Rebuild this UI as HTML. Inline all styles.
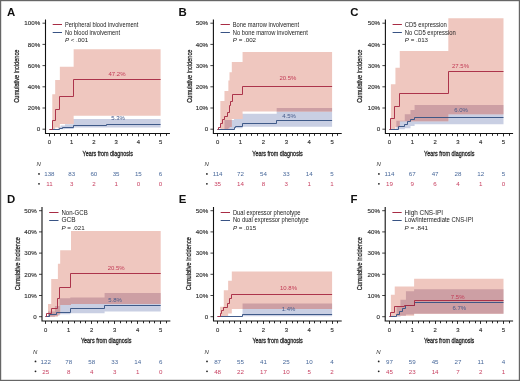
<!DOCTYPE html><html><head><meta charset="utf-8"><style>html,body{margin:0;padding:0;background:#fff}svg{display:block;filter:blur(0.45px)}text{font-family:"Liberation Sans",sans-serif}</style></head><body>
<svg width="520" height="381" viewBox="0 0 520 381">
<rect width="520" height="381" fill="#fff"/>
<g>
<clipPath id="clipA"><path d="M52.29,94.22 L55.18,94.22 L55.18,80.02 L59.85,80.02 L59.85,66.66 L73.64,66.66 L73.64,49.28 L160.60,49.28 L160.60,115.63 L73.64,115.63 L73.64,123.90 L59.85,123.90 L59.85,127.61 L55.18,127.61 L55.18,129.20 L52.29,129.20Z"/></clipPath>
<path d="M58.30,127.08 L60.52,127.08 L60.52,125.49 L64.97,125.49 L64.97,124.32 L73.64,124.32 L73.64,118.92 L106.56,118.92 L106.56,118.92 L160.60,118.92 L160.60,127.50 L106.56,127.50 L106.56,127.50 L73.64,127.50 L73.64,128.88 L64.97,128.88 L64.97,129.20 L60.52,129.20 L60.52,129.20 L58.30,129.20Z" fill="#c9cfe3"/>
<path d="M52.29,94.22 L55.18,94.22 L55.18,80.02 L59.85,80.02 L59.85,66.66 L73.64,66.66 L73.64,49.28 L160.60,49.28 L160.60,115.63 L73.64,115.63 L73.64,123.90 L59.85,123.90 L59.85,127.61 L55.18,127.61 L55.18,129.20 L52.29,129.20Z" fill="#efc7bf"/>
<path d="M58.30,127.08 L60.52,127.08 L60.52,125.49 L64.97,125.49 L64.97,124.32 L73.64,124.32 L73.64,118.92 L106.56,118.92 L106.56,118.92 L160.60,118.92 L160.60,127.50 L106.56,127.50 L106.56,127.50 L73.64,127.50 L73.64,128.88 L64.97,128.88 L64.97,129.20 L60.52,129.20 L60.52,129.20 L58.30,129.20Z" fill="#cd9fa4" clip-path="url(#clipA)"/>
<path d="M49.50,129.50H59.50V128.50H62.50V127.50H73.50V125.50H106.50V124.50H160.60" fill="none" stroke="#385384" stroke-width="0.95"/>
<path d="M49.50,129.50H52.50V120.50H55.50V109.50H59.50V96.50H73.50V79.50H160.60" fill="none" stroke="#a82c44" stroke-width="0.95"/>
<path d="M45.50,19.50V133.50H169.94" fill="none" stroke="#111" stroke-width="1.1"/>
<path d="M42.50,129.20H45.50" stroke="#111" stroke-width="0.8"/>
<text x="40.20" y="131.40" font-size="6.2" fill="#333" text-anchor="end" font-weight="normal" font-style="normal" stroke="#333" stroke-width="0.15">0</text>
<path d="M42.50,108.00H45.50" stroke="#111" stroke-width="0.8"/>
<text x="40.20" y="110.20" font-size="6.2" fill="#333" text-anchor="end" font-weight="normal" font-style="normal" stroke="#333" stroke-width="0.15">20%</text>
<path d="M42.50,86.80H45.50" stroke="#111" stroke-width="0.8"/>
<text x="40.20" y="89.00" font-size="6.2" fill="#333" text-anchor="end" font-weight="normal" font-style="normal" stroke="#333" stroke-width="0.15">40%</text>
<path d="M42.50,65.60H45.50" stroke="#111" stroke-width="0.8"/>
<text x="40.20" y="67.80" font-size="6.2" fill="#333" text-anchor="end" font-weight="normal" font-style="normal" stroke="#333" stroke-width="0.15">60%</text>
<path d="M42.50,44.40H45.50" stroke="#111" stroke-width="0.8"/>
<text x="40.20" y="46.60" font-size="6.2" fill="#333" text-anchor="end" font-weight="normal" font-style="normal" stroke="#333" stroke-width="0.15">80%</text>
<path d="M42.50,23.20H45.50" stroke="#111" stroke-width="0.8"/>
<text x="40.20" y="25.40" font-size="6.2" fill="#333" text-anchor="end" font-weight="normal" font-style="normal" stroke="#333" stroke-width="0.15">100%</text>
<path d="M49.50,133.50V136.40" stroke="#111" stroke-width="0.9"/>
<text x="49.40" y="144.40" font-size="5.9" fill="#333" text-anchor="middle" font-weight="normal" font-style="normal" stroke="#333" stroke-width="0.15">0</text>
<path d="M54.50,133.50V135.80" stroke="#111" stroke-width="0.9"/>
<path d="M60.50,133.50V135.80" stroke="#111" stroke-width="0.9"/>
<path d="M66.50,133.50V135.80" stroke="#111" stroke-width="0.9"/>
<path d="M71.50,133.50V136.40" stroke="#111" stroke-width="0.9"/>
<text x="71.64" y="144.40" font-size="5.9" fill="#333" text-anchor="middle" font-weight="normal" font-style="normal" stroke="#333" stroke-width="0.15">1</text>
<path d="M77.50,133.50V135.80" stroke="#111" stroke-width="0.9"/>
<path d="M82.50,133.50V135.80" stroke="#111" stroke-width="0.9"/>
<path d="M88.50,133.50V135.80" stroke="#111" stroke-width="0.9"/>
<path d="M93.50,133.50V136.40" stroke="#111" stroke-width="0.9"/>
<text x="93.88" y="144.40" font-size="5.9" fill="#333" text-anchor="middle" font-weight="normal" font-style="normal" stroke="#333" stroke-width="0.15">2</text>
<path d="M99.50,133.50V135.80" stroke="#111" stroke-width="0.9"/>
<path d="M105.50,133.50V135.80" stroke="#111" stroke-width="0.9"/>
<path d="M110.50,133.50V135.80" stroke="#111" stroke-width="0.9"/>
<path d="M116.50,133.50V136.40" stroke="#111" stroke-width="0.9"/>
<text x="116.12" y="144.40" font-size="5.9" fill="#333" text-anchor="middle" font-weight="normal" font-style="normal" stroke="#333" stroke-width="0.15">3</text>
<path d="M121.50,133.50V135.80" stroke="#111" stroke-width="0.9"/>
<path d="M127.50,133.50V135.80" stroke="#111" stroke-width="0.9"/>
<path d="M132.50,133.50V135.80" stroke="#111" stroke-width="0.9"/>
<path d="M138.50,133.50V136.40" stroke="#111" stroke-width="0.9"/>
<text x="138.36" y="144.40" font-size="5.9" fill="#333" text-anchor="middle" font-weight="normal" font-style="normal" stroke="#333" stroke-width="0.15">4</text>
<path d="M143.50,133.50V135.80" stroke="#111" stroke-width="0.9"/>
<path d="M149.50,133.50V135.80" stroke="#111" stroke-width="0.9"/>
<path d="M155.50,133.50V135.80" stroke="#111" stroke-width="0.9"/>
<path d="M160.50,133.50V136.40" stroke="#111" stroke-width="0.9"/>
<text x="160.60" y="144.40" font-size="5.9" fill="#333" text-anchor="middle" font-weight="normal" font-style="normal" stroke="#333" stroke-width="0.15">5</text>
<path d="M166.50,133.50V135.80" stroke="#111" stroke-width="0.9"/>
<text x="107.72" y="155.60" font-size="7.2" fill="#2a2a2a" text-anchor="middle" font-weight="normal" font-style="normal" textLength="50.4" lengthAdjust="spacingAndGlyphs" stroke="#2a2a2a" stroke-width="0.3">Years from diagnosis</text>
<text x="0" y="0" font-size="7.9" fill="#2a2a2a" stroke="#2a2a2a" stroke-width="0.3" text-anchor="middle" textLength="53" lengthAdjust="spacingAndGlyphs" transform="translate(19.00,76.20) rotate(-90)">Cumulative incidence</text>
<path d="M52.70,24.50H62.00" stroke="#a82c44" stroke-width="1.0"/>
<path d="M52.70,32.50H62.00" stroke="#385384" stroke-width="1.0"/>
<text x="64.90" y="27.30" font-size="6.4" fill="#222" text-anchor="start" font-weight="normal" font-style="normal" textLength="73.4" lengthAdjust="spacingAndGlyphs" >Peripheral blood involvement</text>
<text x="64.90" y="34.60" font-size="6.4" fill="#222" text-anchor="start" font-weight="normal" font-style="normal" textLength="55.1" lengthAdjust="spacingAndGlyphs" >No blood involvement</text>
<text x="64.90" y="42.20" font-size="6.2" fill="#222"><tspan font-style="italic">P</tspan> < .001</text>
<text x="117.00" y="76.00" font-size="6.0" fill="#c23a55" text-anchor="middle" font-weight="normal" font-style="normal" >47.2%</text>
<text x="118.00" y="119.60" font-size="6.0" fill="#44598a" text-anchor="middle" font-weight="normal" font-style="normal" >5.3%</text>
<text x="38.70" y="166.30" font-size="6" font-style="italic" fill="#333" text-anchor="middle">N</text>
<circle cx="39.00" cy="173.90" r="0.9" fill="#222"/>
<text x="49.40" y="176.20" font-size="6.2" fill="#48689a" text-anchor="middle" font-weight="normal" font-style="normal" >138</text>
<text x="71.64" y="176.20" font-size="6.2" fill="#48689a" text-anchor="middle" font-weight="normal" font-style="normal" >83</text>
<text x="93.88" y="176.20" font-size="6.2" fill="#48689a" text-anchor="middle" font-weight="normal" font-style="normal" >60</text>
<text x="116.12" y="176.20" font-size="6.2" fill="#48689a" text-anchor="middle" font-weight="normal" font-style="normal" >35</text>
<text x="138.36" y="176.20" font-size="6.2" fill="#48689a" text-anchor="middle" font-weight="normal" font-style="normal" >15</text>
<text x="160.60" y="176.20" font-size="6.2" fill="#48689a" text-anchor="middle" font-weight="normal" font-style="normal" >6</text>
<circle cx="39.00" cy="183.80" r="0.9" fill="#222"/>
<text x="49.40" y="186.10" font-size="6.2" fill="#c84262" text-anchor="middle" font-weight="normal" font-style="normal" >11</text>
<text x="71.64" y="186.10" font-size="6.2" fill="#c84262" text-anchor="middle" font-weight="normal" font-style="normal" >3</text>
<text x="93.88" y="186.10" font-size="6.2" fill="#c84262" text-anchor="middle" font-weight="normal" font-style="normal" >2</text>
<text x="116.12" y="186.10" font-size="6.2" fill="#c84262" text-anchor="middle" font-weight="normal" font-style="normal" >1</text>
<text x="138.36" y="186.10" font-size="6.2" fill="#c84262" text-anchor="middle" font-weight="normal" font-style="normal" >0</text>
<text x="160.60" y="186.10" font-size="6.2" fill="#c84262" text-anchor="middle" font-weight="normal" font-style="normal" >0</text>
<text x="7.00" y="15.60" font-size="11.4" fill="#111" text-anchor="start" font-weight="bold" font-style="normal" >A</text>
</g>
<g>
<clipPath id="clipB"><path d="M220.35,101.00 L224.47,101.00 L224.47,91.04 L228.36,91.04 L228.36,80.44 L229.51,80.44 L229.51,72.17 L231.80,72.17 L231.80,62.00 L242.56,62.00 L242.56,52.03 L332.10,52.03 L332.10,111.60 L242.56,111.60 L242.56,119.02 L231.80,119.02 L231.80,127.08 L229.51,127.08 L229.51,128.14 L228.36,128.14 L228.36,129.20 L224.47,129.20 L224.47,129.20 L220.35,129.20Z"/></clipPath>
<path d="M224.47,120.08 L234.09,120.08 L234.09,119.02 L242.56,119.02 L242.56,113.72 L276.68,113.72 L276.68,108.00 L332.10,108.00 L332.10,126.66 L276.68,126.66 L276.68,126.66 L242.56,126.66 L242.56,128.35 L234.09,128.35 L234.09,129.20 L224.47,129.20Z" fill="#c9cfe3"/>
<path d="M220.35,101.00 L224.47,101.00 L224.47,91.04 L228.36,91.04 L228.36,80.44 L229.51,80.44 L229.51,72.17 L231.80,72.17 L231.80,62.00 L242.56,62.00 L242.56,52.03 L332.10,52.03 L332.10,111.60 L242.56,111.60 L242.56,119.02 L231.80,119.02 L231.80,127.08 L229.51,127.08 L229.51,128.14 L228.36,128.14 L228.36,129.20 L224.47,129.20 L224.47,129.20 L220.35,129.20Z" fill="#efc7bf"/>
<path d="M224.47,120.08 L234.09,120.08 L234.09,119.02 L242.56,119.02 L242.56,113.72 L276.68,113.72 L276.68,108.00 L332.10,108.00 L332.10,126.66 L276.68,126.66 L276.68,126.66 L242.56,126.66 L242.56,128.35 L234.09,128.35 L234.09,129.20 L224.47,129.20Z" fill="#cd9fa4" clip-path="url(#clipB)"/>
<path d="M217.50,129.50H234.50V127.50H235.50V126.50H242.50V123.50H276.50V120.50H332.10" fill="none" stroke="#385384" stroke-width="0.95"/>
<path d="M217.50,129.50H218.50V127.50H220.50V123.50H222.50V119.50H224.50V116.50H227.50V112.50H229.50V105.50H230.50V101.50H232.50V94.50H242.50V86.50H332.10" fill="none" stroke="#a82c44" stroke-width="0.95"/>
<path d="M213.40,19.50V133.50H341.72" fill="none" stroke="#111" stroke-width="1.1"/>
<path d="M210.40,129.20H213.40" stroke="#111" stroke-width="0.8"/>
<text x="208.10" y="131.40" font-size="6.2" fill="#333" text-anchor="end" font-weight="normal" font-style="normal" stroke="#333" stroke-width="0.15">0</text>
<path d="M210.40,108.00H213.40" stroke="#111" stroke-width="0.8"/>
<text x="208.10" y="110.20" font-size="6.2" fill="#333" text-anchor="end" font-weight="normal" font-style="normal" stroke="#333" stroke-width="0.15">10%</text>
<path d="M210.40,86.80H213.40" stroke="#111" stroke-width="0.8"/>
<text x="208.10" y="89.00" font-size="6.2" fill="#333" text-anchor="end" font-weight="normal" font-style="normal" stroke="#333" stroke-width="0.15">20%</text>
<path d="M210.40,65.60H213.40" stroke="#111" stroke-width="0.8"/>
<text x="208.10" y="67.80" font-size="6.2" fill="#333" text-anchor="end" font-weight="normal" font-style="normal" stroke="#333" stroke-width="0.15">30%</text>
<path d="M210.40,44.40H213.40" stroke="#111" stroke-width="0.8"/>
<text x="208.10" y="46.60" font-size="6.2" fill="#333" text-anchor="end" font-weight="normal" font-style="normal" stroke="#333" stroke-width="0.15">40%</text>
<path d="M210.40,23.20H213.40" stroke="#111" stroke-width="0.8"/>
<text x="208.10" y="25.40" font-size="6.2" fill="#333" text-anchor="end" font-weight="normal" font-style="normal" stroke="#333" stroke-width="0.15">50%</text>
<path d="M217.50,133.50V136.40" stroke="#111" stroke-width="0.9"/>
<text x="217.60" y="144.40" font-size="5.9" fill="#333" text-anchor="middle" font-weight="normal" font-style="normal" stroke="#333" stroke-width="0.15">0</text>
<path d="M223.50,133.50V135.80" stroke="#111" stroke-width="0.9"/>
<path d="M229.50,133.50V135.80" stroke="#111" stroke-width="0.9"/>
<path d="M234.50,133.50V135.80" stroke="#111" stroke-width="0.9"/>
<path d="M240.50,133.50V136.40" stroke="#111" stroke-width="0.9"/>
<text x="240.50" y="144.40" font-size="5.9" fill="#333" text-anchor="middle" font-weight="normal" font-style="normal" stroke="#333" stroke-width="0.15">1</text>
<path d="M246.50,133.50V135.80" stroke="#111" stroke-width="0.9"/>
<path d="M251.50,133.50V135.80" stroke="#111" stroke-width="0.9"/>
<path d="M257.50,133.50V135.80" stroke="#111" stroke-width="0.9"/>
<path d="M263.50,133.50V136.40" stroke="#111" stroke-width="0.9"/>
<text x="263.40" y="144.40" font-size="5.9" fill="#333" text-anchor="middle" font-weight="normal" font-style="normal" stroke="#333" stroke-width="0.15">2</text>
<path d="M269.50,133.50V135.80" stroke="#111" stroke-width="0.9"/>
<path d="M274.50,133.50V135.80" stroke="#111" stroke-width="0.9"/>
<path d="M280.50,133.50V135.80" stroke="#111" stroke-width="0.9"/>
<path d="M286.50,133.50V136.40" stroke="#111" stroke-width="0.9"/>
<text x="286.30" y="144.40" font-size="5.9" fill="#333" text-anchor="middle" font-weight="normal" font-style="normal" stroke="#333" stroke-width="0.15">3</text>
<path d="M292.50,133.50V135.80" stroke="#111" stroke-width="0.9"/>
<path d="M297.50,133.50V135.80" stroke="#111" stroke-width="0.9"/>
<path d="M303.50,133.50V135.80" stroke="#111" stroke-width="0.9"/>
<path d="M309.50,133.50V136.40" stroke="#111" stroke-width="0.9"/>
<text x="309.20" y="144.40" font-size="5.9" fill="#333" text-anchor="middle" font-weight="normal" font-style="normal" stroke="#333" stroke-width="0.15">4</text>
<path d="M314.50,133.50V135.80" stroke="#111" stroke-width="0.9"/>
<path d="M320.50,133.50V135.80" stroke="#111" stroke-width="0.9"/>
<path d="M326.50,133.50V135.80" stroke="#111" stroke-width="0.9"/>
<path d="M332.50,133.50V136.40" stroke="#111" stroke-width="0.9"/>
<text x="332.10" y="144.40" font-size="5.9" fill="#333" text-anchor="middle" font-weight="normal" font-style="normal" stroke="#333" stroke-width="0.15">5</text>
<path d="M337.50,133.50V135.80" stroke="#111" stroke-width="0.9"/>
<text x="277.56" y="155.60" font-size="7.2" fill="#2a2a2a" text-anchor="middle" font-weight="normal" font-style="normal" textLength="50.4" lengthAdjust="spacingAndGlyphs" stroke="#2a2a2a" stroke-width="0.3">Years from diagnosis</text>
<text x="0" y="0" font-size="7.9" fill="#2a2a2a" stroke="#2a2a2a" stroke-width="0.3" text-anchor="middle" textLength="53" lengthAdjust="spacingAndGlyphs" transform="translate(191.70,76.20) rotate(-90)">Cumulative incidence</text>
<path d="M220.60,24.50H229.90" stroke="#a82c44" stroke-width="1.0"/>
<path d="M220.60,32.50H229.90" stroke="#385384" stroke-width="1.0"/>
<text x="232.80" y="27.30" font-size="6.4" fill="#222" text-anchor="start" font-weight="normal" font-style="normal" textLength="66.3" lengthAdjust="spacingAndGlyphs" >Bone marrow involvement</text>
<text x="232.80" y="34.60" font-size="6.4" fill="#222" text-anchor="start" font-weight="normal" font-style="normal" textLength="75" lengthAdjust="spacingAndGlyphs" >No bone marrow involvement</text>
<text x="232.80" y="42.20" font-size="6.2" fill="#222"><tspan font-style="italic">P</tspan> = .002</text>
<text x="287.90" y="80.30" font-size="6.0" fill="#c23a55" text-anchor="middle" font-weight="normal" font-style="normal" >20.5%</text>
<text x="289.00" y="118.20" font-size="6.0" fill="#44598a" text-anchor="middle" font-weight="normal" font-style="normal" >4.5%</text>
<text x="206.60" y="166.30" font-size="6" font-style="italic" fill="#333" text-anchor="middle">N</text>
<circle cx="206.90" cy="173.90" r="0.9" fill="#222"/>
<text x="217.60" y="176.20" font-size="6.2" fill="#48689a" text-anchor="middle" font-weight="normal" font-style="normal" >114</text>
<text x="240.50" y="176.20" font-size="6.2" fill="#48689a" text-anchor="middle" font-weight="normal" font-style="normal" >72</text>
<text x="263.40" y="176.20" font-size="6.2" fill="#48689a" text-anchor="middle" font-weight="normal" font-style="normal" >54</text>
<text x="286.30" y="176.20" font-size="6.2" fill="#48689a" text-anchor="middle" font-weight="normal" font-style="normal" >33</text>
<text x="309.20" y="176.20" font-size="6.2" fill="#48689a" text-anchor="middle" font-weight="normal" font-style="normal" >14</text>
<text x="332.10" y="176.20" font-size="6.2" fill="#48689a" text-anchor="middle" font-weight="normal" font-style="normal" >5</text>
<circle cx="206.90" cy="183.80" r="0.9" fill="#222"/>
<text x="217.60" y="186.10" font-size="6.2" fill="#c84262" text-anchor="middle" font-weight="normal" font-style="normal" >35</text>
<text x="240.50" y="186.10" font-size="6.2" fill="#c84262" text-anchor="middle" font-weight="normal" font-style="normal" >14</text>
<text x="263.40" y="186.10" font-size="6.2" fill="#c84262" text-anchor="middle" font-weight="normal" font-style="normal" >8</text>
<text x="286.30" y="186.10" font-size="6.2" fill="#c84262" text-anchor="middle" font-weight="normal" font-style="normal" >3</text>
<text x="309.20" y="186.10" font-size="6.2" fill="#c84262" text-anchor="middle" font-weight="normal" font-style="normal" >1</text>
<text x="332.10" y="186.10" font-size="6.2" fill="#c84262" text-anchor="middle" font-weight="normal" font-style="normal" >1</text>
<text x="178.50" y="15.60" font-size="11.4" fill="#111" text-anchor="start" font-weight="bold" font-style="normal" >B</text>
</g>
<g>
<clipPath id="clipC"><path d="M390.87,84.26 L395.43,84.26 L395.43,67.72 L399.76,67.72 L399.76,50.97 L448.32,50.97 L448.32,18.32 L503.50,18.32 L503.50,114.15 L448.32,114.15 L448.32,121.14 L399.76,121.14 L399.76,127.08 L395.43,127.08 L395.43,129.20 L390.87,129.20Z"/></clipPath>
<path d="M396.34,120.72 L404.78,120.72 L404.78,114.36 L410.48,114.36 L410.48,110.12 L414.58,110.12 L414.58,105.03 L503.50,105.03 L503.50,124.32 L414.58,124.32 L414.58,126.02 L410.48,126.02 L410.48,128.14 L404.78,128.14 L404.78,129.20 L396.34,129.20Z" fill="#c9cfe3"/>
<path d="M390.87,84.26 L395.43,84.26 L395.43,67.72 L399.76,67.72 L399.76,50.97 L448.32,50.97 L448.32,18.32 L503.50,18.32 L503.50,114.15 L448.32,114.15 L448.32,121.14 L399.76,121.14 L399.76,127.08 L395.43,127.08 L395.43,129.20 L390.87,129.20Z" fill="#efc7bf"/>
<path d="M396.34,120.72 L404.78,120.72 L404.78,114.36 L410.48,114.36 L410.48,110.12 L414.58,110.12 L414.58,105.03 L503.50,105.03 L503.50,124.32 L414.58,124.32 L414.58,126.02 L410.48,126.02 L410.48,128.14 L404.78,128.14 L404.78,129.20 L396.34,129.20Z" fill="#cd9fa4" clip-path="url(#clipC)"/>
<path d="M389.50,129.50H398.50V126.50H404.50V124.50H407.50V121.50H410.50V119.50H414.50V117.50H503.50" fill="none" stroke="#385384" stroke-width="0.95"/>
<path d="M389.50,129.50H390.50V118.50H394.50V106.50H399.50V93.50H448.50V71.50H503.50" fill="none" stroke="#a82c44" stroke-width="0.95"/>
<path d="M385.40,19.50V133.50H513.08" fill="none" stroke="#111" stroke-width="1.1"/>
<path d="M382.40,129.20H385.40" stroke="#111" stroke-width="0.8"/>
<text x="380.10" y="131.40" font-size="6.2" fill="#333" text-anchor="end" font-weight="normal" font-style="normal" stroke="#333" stroke-width="0.15">0</text>
<path d="M382.40,108.00H385.40" stroke="#111" stroke-width="0.8"/>
<text x="380.10" y="110.20" font-size="6.2" fill="#333" text-anchor="end" font-weight="normal" font-style="normal" stroke="#333" stroke-width="0.15">10%</text>
<path d="M382.40,86.80H385.40" stroke="#111" stroke-width="0.8"/>
<text x="380.10" y="89.00" font-size="6.2" fill="#333" text-anchor="end" font-weight="normal" font-style="normal" stroke="#333" stroke-width="0.15">20%</text>
<path d="M382.40,65.60H385.40" stroke="#111" stroke-width="0.8"/>
<text x="380.10" y="67.80" font-size="6.2" fill="#333" text-anchor="end" font-weight="normal" font-style="normal" stroke="#333" stroke-width="0.15">30%</text>
<path d="M382.40,44.40H385.40" stroke="#111" stroke-width="0.8"/>
<text x="380.10" y="46.60" font-size="6.2" fill="#333" text-anchor="end" font-weight="normal" font-style="normal" stroke="#333" stroke-width="0.15">40%</text>
<path d="M382.40,23.20H385.40" stroke="#111" stroke-width="0.8"/>
<text x="380.10" y="25.40" font-size="6.2" fill="#333" text-anchor="end" font-weight="normal" font-style="normal" stroke="#333" stroke-width="0.15">50%</text>
<path d="M389.50,133.50V136.40" stroke="#111" stroke-width="0.9"/>
<text x="389.50" y="144.40" font-size="5.9" fill="#333" text-anchor="middle" font-weight="normal" font-style="normal" stroke="#333" stroke-width="0.15">0</text>
<path d="M395.50,133.50V135.80" stroke="#111" stroke-width="0.9"/>
<path d="M400.50,133.50V135.80" stroke="#111" stroke-width="0.9"/>
<path d="M406.50,133.50V135.80" stroke="#111" stroke-width="0.9"/>
<path d="M412.50,133.50V136.40" stroke="#111" stroke-width="0.9"/>
<text x="412.30" y="144.40" font-size="5.9" fill="#333" text-anchor="middle" font-weight="normal" font-style="normal" stroke="#333" stroke-width="0.15">1</text>
<path d="M418.50,133.50V135.80" stroke="#111" stroke-width="0.9"/>
<path d="M423.50,133.50V135.80" stroke="#111" stroke-width="0.9"/>
<path d="M429.50,133.50V135.80" stroke="#111" stroke-width="0.9"/>
<path d="M435.50,133.50V136.40" stroke="#111" stroke-width="0.9"/>
<text x="435.10" y="144.40" font-size="5.9" fill="#333" text-anchor="middle" font-weight="normal" font-style="normal" stroke="#333" stroke-width="0.15">2</text>
<path d="M440.50,133.50V135.80" stroke="#111" stroke-width="0.9"/>
<path d="M446.50,133.50V135.80" stroke="#111" stroke-width="0.9"/>
<path d="M452.50,133.50V135.80" stroke="#111" stroke-width="0.9"/>
<path d="M457.50,133.50V136.40" stroke="#111" stroke-width="0.9"/>
<text x="457.90" y="144.40" font-size="5.9" fill="#333" text-anchor="middle" font-weight="normal" font-style="normal" stroke="#333" stroke-width="0.15">3</text>
<path d="M463.50,133.50V135.80" stroke="#111" stroke-width="0.9"/>
<path d="M469.50,133.50V135.80" stroke="#111" stroke-width="0.9"/>
<path d="M475.50,133.50V135.80" stroke="#111" stroke-width="0.9"/>
<path d="M480.50,133.50V136.40" stroke="#111" stroke-width="0.9"/>
<text x="480.70" y="144.40" font-size="5.9" fill="#333" text-anchor="middle" font-weight="normal" font-style="normal" stroke="#333" stroke-width="0.15">4</text>
<path d="M486.50,133.50V135.80" stroke="#111" stroke-width="0.9"/>
<path d="M492.50,133.50V135.80" stroke="#111" stroke-width="0.9"/>
<path d="M497.50,133.50V135.80" stroke="#111" stroke-width="0.9"/>
<path d="M503.50,133.50V136.40" stroke="#111" stroke-width="0.9"/>
<text x="503.50" y="144.40" font-size="5.9" fill="#333" text-anchor="middle" font-weight="normal" font-style="normal" stroke="#333" stroke-width="0.15">5</text>
<path d="M509.50,133.50V135.80" stroke="#111" stroke-width="0.9"/>
<text x="449.24" y="155.60" font-size="7.2" fill="#2a2a2a" text-anchor="middle" font-weight="normal" font-style="normal" textLength="50.4" lengthAdjust="spacingAndGlyphs" stroke="#2a2a2a" stroke-width="0.3">Years from diagnosis</text>
<text x="0" y="0" font-size="7.9" fill="#2a2a2a" stroke="#2a2a2a" stroke-width="0.3" text-anchor="middle" textLength="53" lengthAdjust="spacingAndGlyphs" transform="translate(362.40,76.20) rotate(-90)">Cumulative incidence</text>
<path d="M392.60,24.50H401.90" stroke="#a82c44" stroke-width="1.0"/>
<path d="M392.60,32.50H401.90" stroke="#385384" stroke-width="1.0"/>
<text x="404.80" y="27.30" font-size="6.4" fill="#222" text-anchor="start" font-weight="normal" font-style="normal" textLength="42" lengthAdjust="spacingAndGlyphs" >CD5 expression</text>
<text x="404.80" y="34.60" font-size="6.4" fill="#222" text-anchor="start" font-weight="normal" font-style="normal" textLength="51" lengthAdjust="spacingAndGlyphs" >No CD5 expression</text>
<text x="404.80" y="42.20" font-size="6.2" fill="#222"><tspan font-style="italic">P</tspan> = .013</text>
<text x="460.50" y="68.00" font-size="6.0" fill="#c23a55" text-anchor="middle" font-weight="normal" font-style="normal" >27.5%</text>
<text x="461.00" y="112.10" font-size="6.0" fill="#44598a" text-anchor="middle" font-weight="normal" font-style="normal" >6.0%</text>
<text x="378.60" y="166.30" font-size="6" font-style="italic" fill="#333" text-anchor="middle">N</text>
<circle cx="378.90" cy="173.90" r="0.9" fill="#222"/>
<text x="389.50" y="176.20" font-size="6.2" fill="#48689a" text-anchor="middle" font-weight="normal" font-style="normal" >114</text>
<text x="412.30" y="176.20" font-size="6.2" fill="#48689a" text-anchor="middle" font-weight="normal" font-style="normal" >67</text>
<text x="435.10" y="176.20" font-size="6.2" fill="#48689a" text-anchor="middle" font-weight="normal" font-style="normal" >47</text>
<text x="457.90" y="176.20" font-size="6.2" fill="#48689a" text-anchor="middle" font-weight="normal" font-style="normal" >28</text>
<text x="480.70" y="176.20" font-size="6.2" fill="#48689a" text-anchor="middle" font-weight="normal" font-style="normal" >12</text>
<text x="503.50" y="176.20" font-size="6.2" fill="#48689a" text-anchor="middle" font-weight="normal" font-style="normal" >5</text>
<circle cx="378.90" cy="183.80" r="0.9" fill="#222"/>
<text x="389.50" y="186.10" font-size="6.2" fill="#c84262" text-anchor="middle" font-weight="normal" font-style="normal" >19</text>
<text x="412.30" y="186.10" font-size="6.2" fill="#c84262" text-anchor="middle" font-weight="normal" font-style="normal" >9</text>
<text x="435.10" y="186.10" font-size="6.2" fill="#c84262" text-anchor="middle" font-weight="normal" font-style="normal" >6</text>
<text x="457.90" y="186.10" font-size="6.2" fill="#c84262" text-anchor="middle" font-weight="normal" font-style="normal" >4</text>
<text x="480.70" y="186.10" font-size="6.2" fill="#c84262" text-anchor="middle" font-weight="normal" font-style="normal" >1</text>
<text x="503.50" y="186.10" font-size="6.2" fill="#c84262" text-anchor="middle" font-weight="normal" font-style="normal" >0</text>
<text x="350.20" y="15.60" font-size="11.4" fill="#111" text-anchor="start" font-weight="bold" font-style="normal" >C</text>
</g>
<g>
<clipPath id="clipD"><path d="M48.00,303.98 L51.22,303.98 L51.22,278.96 L57.89,278.96 L57.89,263.70 L60.19,263.70 L60.19,250.13 L71.00,250.13 L71.00,231.05 L160.70,231.05 L160.70,303.98 L71.00,303.98 L71.00,305.04 L60.19,305.04 L60.19,314.58 L57.89,314.58 L57.89,316.70 L51.22,316.70 L51.22,316.70 L48.00,316.70Z"/></clipPath>
<path d="M48.00,311.40 L54.90,311.40 L54.90,306.10 L59.50,306.10 L59.50,298.26 L70.31,298.26 L70.31,297.62 L104.58,297.62 L104.58,292.96 L160.70,292.96 L160.70,311.40 L104.58,311.40 L104.58,313.31 L70.31,313.31 L70.31,314.16 L59.50,314.16 L59.50,315.64 L54.90,315.64 L54.90,316.70 L48.00,316.70Z" fill="#c9cfe3"/>
<path d="M48.00,303.98 L51.22,303.98 L51.22,278.96 L57.89,278.96 L57.89,263.70 L60.19,263.70 L60.19,250.13 L71.00,250.13 L71.00,231.05 L160.70,231.05 L160.70,303.98 L71.00,303.98 L71.00,305.04 L60.19,305.04 L60.19,314.58 L57.89,314.58 L57.89,316.70 L51.22,316.70 L51.22,316.70 L48.00,316.70Z" fill="#efc7bf"/>
<path d="M48.00,311.40 L54.90,311.40 L54.90,306.10 L59.50,306.10 L59.50,298.26 L70.31,298.26 L70.31,297.62 L104.58,297.62 L104.58,292.96 L160.70,292.96 L160.70,311.40 L104.58,311.40 L104.58,313.31 L70.31,313.31 L70.31,314.16 L59.50,314.16 L59.50,315.64 L54.90,315.64 L54.90,316.70 L48.00,316.70Z" fill="#cd9fa4" clip-path="url(#clipD)"/>
<path d="M45.50,316.50H49.50V314.50H56.50V312.50H70.50V308.50H104.50V305.50H160.70" fill="none" stroke="#385384" stroke-width="0.95"/>
<path d="M45.50,316.50H46.50V313.50H51.50V308.50H57.50V298.50H59.50V287.50H70.50V273.50H160.70" fill="none" stroke="#a82c44" stroke-width="0.95"/>
<path d="M42.00,207.00V321.00H170.36" fill="none" stroke="#111" stroke-width="1.1"/>
<path d="M39.00,316.70H42.00" stroke="#111" stroke-width="0.8"/>
<text x="36.70" y="318.90" font-size="6.2" fill="#333" text-anchor="end" font-weight="normal" font-style="normal" stroke="#333" stroke-width="0.15">0</text>
<path d="M39.00,295.50H42.00" stroke="#111" stroke-width="0.8"/>
<text x="36.70" y="297.70" font-size="6.2" fill="#333" text-anchor="end" font-weight="normal" font-style="normal" stroke="#333" stroke-width="0.15">10%</text>
<path d="M39.00,274.30H42.00" stroke="#111" stroke-width="0.8"/>
<text x="36.70" y="276.50" font-size="6.2" fill="#333" text-anchor="end" font-weight="normal" font-style="normal" stroke="#333" stroke-width="0.15">20%</text>
<path d="M39.00,253.10H42.00" stroke="#111" stroke-width="0.8"/>
<text x="36.70" y="255.30" font-size="6.2" fill="#333" text-anchor="end" font-weight="normal" font-style="normal" stroke="#333" stroke-width="0.15">30%</text>
<path d="M39.00,231.90H42.00" stroke="#111" stroke-width="0.8"/>
<text x="36.70" y="234.10" font-size="6.2" fill="#333" text-anchor="end" font-weight="normal" font-style="normal" stroke="#333" stroke-width="0.15">40%</text>
<path d="M39.00,210.70H42.00" stroke="#111" stroke-width="0.8"/>
<text x="36.70" y="212.90" font-size="6.2" fill="#333" text-anchor="end" font-weight="normal" font-style="normal" stroke="#333" stroke-width="0.15">50%</text>
<path d="M45.50,321.00V323.90" stroke="#111" stroke-width="0.9"/>
<text x="45.70" y="331.90" font-size="5.9" fill="#333" text-anchor="middle" font-weight="normal" font-style="normal" stroke="#333" stroke-width="0.15">0</text>
<path d="M51.50,321.00V323.30" stroke="#111" stroke-width="0.9"/>
<path d="M57.50,321.00V323.30" stroke="#111" stroke-width="0.9"/>
<path d="M62.50,321.00V323.30" stroke="#111" stroke-width="0.9"/>
<path d="M68.50,321.00V323.90" stroke="#111" stroke-width="0.9"/>
<text x="68.70" y="331.90" font-size="5.9" fill="#333" text-anchor="middle" font-weight="normal" font-style="normal" stroke="#333" stroke-width="0.15">1</text>
<path d="M74.50,321.00V323.30" stroke="#111" stroke-width="0.9"/>
<path d="M80.50,321.00V323.30" stroke="#111" stroke-width="0.9"/>
<path d="M85.50,321.00V323.30" stroke="#111" stroke-width="0.9"/>
<path d="M91.50,321.00V323.90" stroke="#111" stroke-width="0.9"/>
<text x="91.70" y="331.90" font-size="5.9" fill="#333" text-anchor="middle" font-weight="normal" font-style="normal" stroke="#333" stroke-width="0.15">2</text>
<path d="M97.50,321.00V323.30" stroke="#111" stroke-width="0.9"/>
<path d="M103.50,321.00V323.30" stroke="#111" stroke-width="0.9"/>
<path d="M108.50,321.00V323.30" stroke="#111" stroke-width="0.9"/>
<path d="M114.50,321.00V323.90" stroke="#111" stroke-width="0.9"/>
<text x="114.70" y="331.90" font-size="5.9" fill="#333" text-anchor="middle" font-weight="normal" font-style="normal" stroke="#333" stroke-width="0.15">3</text>
<path d="M120.50,321.00V323.30" stroke="#111" stroke-width="0.9"/>
<path d="M126.50,321.00V323.30" stroke="#111" stroke-width="0.9"/>
<path d="M131.50,321.00V323.30" stroke="#111" stroke-width="0.9"/>
<path d="M137.50,321.00V323.90" stroke="#111" stroke-width="0.9"/>
<text x="137.70" y="331.90" font-size="5.9" fill="#333" text-anchor="middle" font-weight="normal" font-style="normal" stroke="#333" stroke-width="0.15">4</text>
<path d="M143.50,321.00V323.30" stroke="#111" stroke-width="0.9"/>
<path d="M149.50,321.00V323.30" stroke="#111" stroke-width="0.9"/>
<path d="M154.50,321.00V323.30" stroke="#111" stroke-width="0.9"/>
<path d="M160.50,321.00V323.90" stroke="#111" stroke-width="0.9"/>
<text x="160.70" y="331.90" font-size="5.9" fill="#333" text-anchor="middle" font-weight="normal" font-style="normal" stroke="#333" stroke-width="0.15">5</text>
<path d="M166.50,321.00V323.30" stroke="#111" stroke-width="0.9"/>
<text x="106.18" y="343.10" font-size="7.2" fill="#2a2a2a" text-anchor="middle" font-weight="normal" font-style="normal" textLength="50.4" lengthAdjust="spacingAndGlyphs" stroke="#2a2a2a" stroke-width="0.3">Years from diagnosis</text>
<text x="0" y="0" font-size="7.9" fill="#2a2a2a" stroke="#2a2a2a" stroke-width="0.3" text-anchor="middle" textLength="53" lengthAdjust="spacingAndGlyphs" transform="translate(19.50,263.70) rotate(-90)">Cumulative incidence</text>
<path d="M49.20,212.50H58.50" stroke="#a82c44" stroke-width="1.0"/>
<path d="M49.20,220.50H58.50" stroke="#385384" stroke-width="1.0"/>
<text x="61.40" y="214.80" font-size="6.4" fill="#222" text-anchor="start" font-weight="normal" font-style="normal" textLength="26.3" lengthAdjust="spacingAndGlyphs" >Non-GCB</text>
<text x="61.40" y="222.10" font-size="6.4" fill="#222" text-anchor="start" font-weight="normal" font-style="normal" textLength="14.2" lengthAdjust="spacingAndGlyphs" >GCB</text>
<text x="61.40" y="229.70" font-size="6.2" fill="#222"><tspan font-style="italic">P</tspan> = .021</text>
<text x="116.20" y="270.40" font-size="6.0" fill="#c23a55" text-anchor="middle" font-weight="normal" font-style="normal" >20.5%</text>
<text x="115.10" y="302.40" font-size="6.0" fill="#44598a" text-anchor="middle" font-weight="normal" font-style="normal" >5.8%</text>
<text x="35.20" y="353.80" font-size="6" font-style="italic" fill="#333" text-anchor="middle">N</text>
<circle cx="35.50" cy="361.40" r="0.9" fill="#222"/>
<text x="45.70" y="363.70" font-size="6.2" fill="#48689a" text-anchor="middle" font-weight="normal" font-style="normal" >122</text>
<text x="68.70" y="363.70" font-size="6.2" fill="#48689a" text-anchor="middle" font-weight="normal" font-style="normal" >78</text>
<text x="91.70" y="363.70" font-size="6.2" fill="#48689a" text-anchor="middle" font-weight="normal" font-style="normal" >58</text>
<text x="114.70" y="363.70" font-size="6.2" fill="#48689a" text-anchor="middle" font-weight="normal" font-style="normal" >33</text>
<text x="137.70" y="363.70" font-size="6.2" fill="#48689a" text-anchor="middle" font-weight="normal" font-style="normal" >14</text>
<text x="160.70" y="363.70" font-size="6.2" fill="#48689a" text-anchor="middle" font-weight="normal" font-style="normal" >6</text>
<circle cx="35.50" cy="371.30" r="0.9" fill="#222"/>
<text x="45.70" y="373.60" font-size="6.2" fill="#c84262" text-anchor="middle" font-weight="normal" font-style="normal" >25</text>
<text x="68.70" y="373.60" font-size="6.2" fill="#c84262" text-anchor="middle" font-weight="normal" font-style="normal" >8</text>
<text x="91.70" y="373.60" font-size="6.2" fill="#c84262" text-anchor="middle" font-weight="normal" font-style="normal" >4</text>
<text x="114.70" y="373.60" font-size="6.2" fill="#c84262" text-anchor="middle" font-weight="normal" font-style="normal" >3</text>
<text x="137.70" y="373.60" font-size="6.2" fill="#c84262" text-anchor="middle" font-weight="normal" font-style="normal" >1</text>
<text x="160.70" y="373.60" font-size="6.2" fill="#c84262" text-anchor="middle" font-weight="normal" font-style="normal" >0</text>
<text x="7.00" y="203.10" font-size="11.4" fill="#111" text-anchor="start" font-weight="bold" font-style="normal" >D</text>
</g>
<g>
<clipPath id="clipE"><path d="M220.12,306.74 L223.78,306.74 L223.78,290.20 L228.13,290.20 L228.13,280.87 L231.80,280.87 L231.80,271.54 L332.10,271.54 L332.10,309.07 L231.80,309.07 L231.80,313.52 L228.13,313.52 L228.13,316.28 L223.78,316.28 L223.78,316.70 L220.12,316.70Z"/></clipPath>
<path d="M242.56,303.56 L332.10,303.56 L332.10,316.28 L242.56,316.28Z" fill="#c9cfe3"/>
<path d="M220.12,306.74 L223.78,306.74 L223.78,290.20 L228.13,290.20 L228.13,280.87 L231.80,280.87 L231.80,271.54 L332.10,271.54 L332.10,309.07 L231.80,309.07 L231.80,313.52 L228.13,313.52 L228.13,316.28 L223.78,316.28 L223.78,316.70 L220.12,316.70Z" fill="#efc7bf"/>
<path d="M242.56,303.56 L332.10,303.56 L332.10,316.28 L242.56,316.28Z" fill="#cd9fa4" clip-path="url(#clipE)"/>
<path d="M217.50,316.50H242.50V314.50H332.10" fill="none" stroke="#385384" stroke-width="0.95"/>
<path d="M217.50,316.50H220.50V313.50H221.50V310.50H223.50V307.50H227.50V303.50H229.50V298.50H231.50V294.50H332.10" fill="none" stroke="#a82c44" stroke-width="0.95"/>
<path d="M213.50,207.00V321.00H341.72" fill="none" stroke="#111" stroke-width="1.1"/>
<path d="M210.50,316.70H213.50" stroke="#111" stroke-width="0.8"/>
<text x="208.20" y="318.90" font-size="6.2" fill="#333" text-anchor="end" font-weight="normal" font-style="normal" stroke="#333" stroke-width="0.15">0</text>
<path d="M210.50,295.50H213.50" stroke="#111" stroke-width="0.8"/>
<text x="208.20" y="297.70" font-size="6.2" fill="#333" text-anchor="end" font-weight="normal" font-style="normal" stroke="#333" stroke-width="0.15">10%</text>
<path d="M210.50,274.30H213.50" stroke="#111" stroke-width="0.8"/>
<text x="208.20" y="276.50" font-size="6.2" fill="#333" text-anchor="end" font-weight="normal" font-style="normal" stroke="#333" stroke-width="0.15">20%</text>
<path d="M210.50,253.10H213.50" stroke="#111" stroke-width="0.8"/>
<text x="208.20" y="255.30" font-size="6.2" fill="#333" text-anchor="end" font-weight="normal" font-style="normal" stroke="#333" stroke-width="0.15">30%</text>
<path d="M210.50,231.90H213.50" stroke="#111" stroke-width="0.8"/>
<text x="208.20" y="234.10" font-size="6.2" fill="#333" text-anchor="end" font-weight="normal" font-style="normal" stroke="#333" stroke-width="0.15">40%</text>
<path d="M210.50,210.70H213.50" stroke="#111" stroke-width="0.8"/>
<text x="208.20" y="212.90" font-size="6.2" fill="#333" text-anchor="end" font-weight="normal" font-style="normal" stroke="#333" stroke-width="0.15">50%</text>
<path d="M217.50,321.00V323.90" stroke="#111" stroke-width="0.9"/>
<text x="217.60" y="331.90" font-size="5.9" fill="#333" text-anchor="middle" font-weight="normal" font-style="normal" stroke="#333" stroke-width="0.15">0</text>
<path d="M223.50,321.00V323.30" stroke="#111" stroke-width="0.9"/>
<path d="M229.50,321.00V323.30" stroke="#111" stroke-width="0.9"/>
<path d="M234.50,321.00V323.30" stroke="#111" stroke-width="0.9"/>
<path d="M240.50,321.00V323.90" stroke="#111" stroke-width="0.9"/>
<text x="240.50" y="331.90" font-size="5.9" fill="#333" text-anchor="middle" font-weight="normal" font-style="normal" stroke="#333" stroke-width="0.15">1</text>
<path d="M246.50,321.00V323.30" stroke="#111" stroke-width="0.9"/>
<path d="M251.50,321.00V323.30" stroke="#111" stroke-width="0.9"/>
<path d="M257.50,321.00V323.30" stroke="#111" stroke-width="0.9"/>
<path d="M263.50,321.00V323.90" stroke="#111" stroke-width="0.9"/>
<text x="263.40" y="331.90" font-size="5.9" fill="#333" text-anchor="middle" font-weight="normal" font-style="normal" stroke="#333" stroke-width="0.15">2</text>
<path d="M269.50,321.00V323.30" stroke="#111" stroke-width="0.9"/>
<path d="M274.50,321.00V323.30" stroke="#111" stroke-width="0.9"/>
<path d="M280.50,321.00V323.30" stroke="#111" stroke-width="0.9"/>
<path d="M286.50,321.00V323.90" stroke="#111" stroke-width="0.9"/>
<text x="286.30" y="331.90" font-size="5.9" fill="#333" text-anchor="middle" font-weight="normal" font-style="normal" stroke="#333" stroke-width="0.15">3</text>
<path d="M292.50,321.00V323.30" stroke="#111" stroke-width="0.9"/>
<path d="M297.50,321.00V323.30" stroke="#111" stroke-width="0.9"/>
<path d="M303.50,321.00V323.30" stroke="#111" stroke-width="0.9"/>
<path d="M309.50,321.00V323.90" stroke="#111" stroke-width="0.9"/>
<text x="309.20" y="331.90" font-size="5.9" fill="#333" text-anchor="middle" font-weight="normal" font-style="normal" stroke="#333" stroke-width="0.15">4</text>
<path d="M314.50,321.00V323.30" stroke="#111" stroke-width="0.9"/>
<path d="M320.50,321.00V323.30" stroke="#111" stroke-width="0.9"/>
<path d="M326.50,321.00V323.30" stroke="#111" stroke-width="0.9"/>
<path d="M332.50,321.00V323.90" stroke="#111" stroke-width="0.9"/>
<text x="332.10" y="331.90" font-size="5.9" fill="#333" text-anchor="middle" font-weight="normal" font-style="normal" stroke="#333" stroke-width="0.15">5</text>
<path d="M337.50,321.00V323.30" stroke="#111" stroke-width="0.9"/>
<text x="277.61" y="343.10" font-size="7.2" fill="#2a2a2a" text-anchor="middle" font-weight="normal" font-style="normal" textLength="50.4" lengthAdjust="spacingAndGlyphs" stroke="#2a2a2a" stroke-width="0.3">Years from diagnosis</text>
<text x="0" y="0" font-size="7.9" fill="#2a2a2a" stroke="#2a2a2a" stroke-width="0.3" text-anchor="middle" textLength="53" lengthAdjust="spacingAndGlyphs" transform="translate(191.20,263.70) rotate(-90)">Cumulative incidence</text>
<path d="M220.70,212.50H230.00" stroke="#a82c44" stroke-width="1.0"/>
<path d="M220.70,220.50H230.00" stroke="#385384" stroke-width="1.0"/>
<text x="232.90" y="214.80" font-size="6.4" fill="#222" text-anchor="start" font-weight="normal" font-style="normal" textLength="67.7" lengthAdjust="spacingAndGlyphs" >Dual expressor phenotype</text>
<text x="232.90" y="222.10" font-size="6.4" fill="#222" text-anchor="start" font-weight="normal" font-style="normal" textLength="75.8" lengthAdjust="spacingAndGlyphs" >No dual expressor phenotype</text>
<text x="232.90" y="229.70" font-size="6.2" fill="#222"><tspan font-style="italic">P</tspan> = .015</text>
<text x="288.50" y="289.80" font-size="6.0" fill="#c23a55" text-anchor="middle" font-weight="normal" font-style="normal" >10.8%</text>
<text x="288.60" y="311.10" font-size="6.0" fill="#44598a" text-anchor="middle" font-weight="normal" font-style="normal" >1.4%</text>
<text x="206.70" y="353.80" font-size="6" font-style="italic" fill="#333" text-anchor="middle">N</text>
<circle cx="207.00" cy="361.40" r="0.9" fill="#222"/>
<text x="217.60" y="363.70" font-size="6.2" fill="#48689a" text-anchor="middle" font-weight="normal" font-style="normal" >87</text>
<text x="240.50" y="363.70" font-size="6.2" fill="#48689a" text-anchor="middle" font-weight="normal" font-style="normal" >55</text>
<text x="263.40" y="363.70" font-size="6.2" fill="#48689a" text-anchor="middle" font-weight="normal" font-style="normal" >41</text>
<text x="286.30" y="363.70" font-size="6.2" fill="#48689a" text-anchor="middle" font-weight="normal" font-style="normal" >25</text>
<text x="309.20" y="363.70" font-size="6.2" fill="#48689a" text-anchor="middle" font-weight="normal" font-style="normal" >10</text>
<text x="332.10" y="363.70" font-size="6.2" fill="#48689a" text-anchor="middle" font-weight="normal" font-style="normal" >4</text>
<circle cx="207.00" cy="371.30" r="0.9" fill="#222"/>
<text x="217.60" y="373.60" font-size="6.2" fill="#c84262" text-anchor="middle" font-weight="normal" font-style="normal" >48</text>
<text x="240.50" y="373.60" font-size="6.2" fill="#c84262" text-anchor="middle" font-weight="normal" font-style="normal" >22</text>
<text x="263.40" y="373.60" font-size="6.2" fill="#c84262" text-anchor="middle" font-weight="normal" font-style="normal" >17</text>
<text x="286.30" y="373.60" font-size="6.2" fill="#c84262" text-anchor="middle" font-weight="normal" font-style="normal" >10</text>
<text x="309.20" y="373.60" font-size="6.2" fill="#c84262" text-anchor="middle" font-weight="normal" font-style="normal" >5</text>
<text x="332.10" y="373.60" font-size="6.2" fill="#c84262" text-anchor="middle" font-weight="normal" font-style="normal" >2</text>
<text x="178.80" y="203.10" font-size="11.4" fill="#111" text-anchor="start" font-weight="bold" font-style="normal" >E</text>
</g>
<g>
<clipPath id="clipF"><path d="M390.87,294.65 L394.74,294.65 L394.74,286.60 L414.12,286.60 L414.12,278.75 L503.50,278.75 L503.50,313.73 L414.12,313.73 L414.12,315.64 L394.74,315.64 L394.74,316.70 L390.87,316.70Z"/></clipPath>
<path d="M396.57,306.10 L400.44,306.10 L400.44,299.74 L405.92,299.74 L405.92,291.26 L414.12,291.26 L414.12,289.14 L503.50,289.14 L503.50,313.73 L414.12,313.73 L414.12,314.58 L405.92,314.58 L405.92,315.64 L400.44,315.64 L400.44,316.70 L396.57,316.70Z" fill="#c9cfe3"/>
<path d="M390.87,294.65 L394.74,294.65 L394.74,286.60 L414.12,286.60 L414.12,278.75 L503.50,278.75 L503.50,313.73 L414.12,313.73 L414.12,315.64 L394.74,315.64 L394.74,316.70 L390.87,316.70Z" fill="#efc7bf"/>
<path d="M396.57,306.10 L400.44,306.10 L400.44,299.74 L405.92,299.74 L405.92,291.26 L414.12,291.26 L414.12,289.14 L503.50,289.14 L503.50,313.73 L414.12,313.73 L414.12,314.58 L405.92,314.58 L405.92,315.64 L400.44,315.64 L400.44,316.70 L396.57,316.70Z" fill="#cd9fa4" clip-path="url(#clipF)"/>
<path d="M389.50,316.50H396.50V314.50H399.50V311.50H402.50V308.50H405.50V305.50H414.50V302.50H503.50" fill="none" stroke="#385384" stroke-width="0.95"/>
<path d="M389.50,316.50H390.50V312.50H394.50V306.50H404.50V305.50H414.50V300.50H503.50" fill="none" stroke="#a82c44" stroke-width="0.95"/>
<path d="M385.20,207.00V321.00H513.08" fill="none" stroke="#111" stroke-width="1.1"/>
<path d="M382.20,316.70H385.20" stroke="#111" stroke-width="0.8"/>
<text x="379.90" y="318.90" font-size="6.2" fill="#333" text-anchor="end" font-weight="normal" font-style="normal" stroke="#333" stroke-width="0.15">0</text>
<path d="M382.20,295.50H385.20" stroke="#111" stroke-width="0.8"/>
<text x="379.90" y="297.70" font-size="6.2" fill="#333" text-anchor="end" font-weight="normal" font-style="normal" stroke="#333" stroke-width="0.15">10%</text>
<path d="M382.20,274.30H385.20" stroke="#111" stroke-width="0.8"/>
<text x="379.90" y="276.50" font-size="6.2" fill="#333" text-anchor="end" font-weight="normal" font-style="normal" stroke="#333" stroke-width="0.15">20%</text>
<path d="M382.20,253.10H385.20" stroke="#111" stroke-width="0.8"/>
<text x="379.90" y="255.30" font-size="6.2" fill="#333" text-anchor="end" font-weight="normal" font-style="normal" stroke="#333" stroke-width="0.15">30%</text>
<path d="M382.20,231.90H385.20" stroke="#111" stroke-width="0.8"/>
<text x="379.90" y="234.10" font-size="6.2" fill="#333" text-anchor="end" font-weight="normal" font-style="normal" stroke="#333" stroke-width="0.15">40%</text>
<path d="M382.20,210.70H385.20" stroke="#111" stroke-width="0.8"/>
<text x="379.90" y="212.90" font-size="6.2" fill="#333" text-anchor="end" font-weight="normal" font-style="normal" stroke="#333" stroke-width="0.15">50%</text>
<path d="M389.50,321.00V323.90" stroke="#111" stroke-width="0.9"/>
<text x="389.50" y="331.90" font-size="5.9" fill="#333" text-anchor="middle" font-weight="normal" font-style="normal" stroke="#333" stroke-width="0.15">0</text>
<path d="M395.50,321.00V323.30" stroke="#111" stroke-width="0.9"/>
<path d="M400.50,321.00V323.30" stroke="#111" stroke-width="0.9"/>
<path d="M406.50,321.00V323.30" stroke="#111" stroke-width="0.9"/>
<path d="M412.50,321.00V323.90" stroke="#111" stroke-width="0.9"/>
<text x="412.30" y="331.90" font-size="5.9" fill="#333" text-anchor="middle" font-weight="normal" font-style="normal" stroke="#333" stroke-width="0.15">1</text>
<path d="M418.50,321.00V323.30" stroke="#111" stroke-width="0.9"/>
<path d="M423.50,321.00V323.30" stroke="#111" stroke-width="0.9"/>
<path d="M429.50,321.00V323.30" stroke="#111" stroke-width="0.9"/>
<path d="M435.50,321.00V323.90" stroke="#111" stroke-width="0.9"/>
<text x="435.10" y="331.90" font-size="5.9" fill="#333" text-anchor="middle" font-weight="normal" font-style="normal" stroke="#333" stroke-width="0.15">2</text>
<path d="M440.50,321.00V323.30" stroke="#111" stroke-width="0.9"/>
<path d="M446.50,321.00V323.30" stroke="#111" stroke-width="0.9"/>
<path d="M452.50,321.00V323.30" stroke="#111" stroke-width="0.9"/>
<path d="M457.50,321.00V323.90" stroke="#111" stroke-width="0.9"/>
<text x="457.90" y="331.90" font-size="5.9" fill="#333" text-anchor="middle" font-weight="normal" font-style="normal" stroke="#333" stroke-width="0.15">3</text>
<path d="M463.50,321.00V323.30" stroke="#111" stroke-width="0.9"/>
<path d="M469.50,321.00V323.30" stroke="#111" stroke-width="0.9"/>
<path d="M475.50,321.00V323.30" stroke="#111" stroke-width="0.9"/>
<path d="M480.50,321.00V323.90" stroke="#111" stroke-width="0.9"/>
<text x="480.70" y="331.90" font-size="5.9" fill="#333" text-anchor="middle" font-weight="normal" font-style="normal" stroke="#333" stroke-width="0.15">4</text>
<path d="M486.50,321.00V323.30" stroke="#111" stroke-width="0.9"/>
<path d="M492.50,321.00V323.30" stroke="#111" stroke-width="0.9"/>
<path d="M497.50,321.00V323.30" stroke="#111" stroke-width="0.9"/>
<path d="M503.50,321.00V323.90" stroke="#111" stroke-width="0.9"/>
<text x="503.50" y="331.90" font-size="5.9" fill="#333" text-anchor="middle" font-weight="normal" font-style="normal" stroke="#333" stroke-width="0.15">5</text>
<path d="M509.50,321.00V323.30" stroke="#111" stroke-width="0.9"/>
<text x="449.14" y="343.10" font-size="7.2" fill="#2a2a2a" text-anchor="middle" font-weight="normal" font-style="normal" textLength="50.4" lengthAdjust="spacingAndGlyphs" stroke="#2a2a2a" stroke-width="0.3">Years from diagnosis</text>
<text x="0" y="0" font-size="7.9" fill="#2a2a2a" stroke="#2a2a2a" stroke-width="0.3" text-anchor="middle" textLength="53" lengthAdjust="spacingAndGlyphs" transform="translate(362.40,263.70) rotate(-90)">Cumulative incidence</text>
<path d="M392.40,212.50H401.70" stroke="#a82c44" stroke-width="1.0"/>
<path d="M392.40,220.50H401.70" stroke="#385384" stroke-width="1.0"/>
<text x="404.60" y="214.80" font-size="6.4" fill="#222" text-anchor="start" font-weight="normal" font-style="normal" textLength="38.5" lengthAdjust="spacingAndGlyphs" >High CNS-IPI</text>
<text x="404.60" y="222.10" font-size="6.4" fill="#222" text-anchor="start" font-weight="normal" font-style="normal" textLength="68.8" lengthAdjust="spacingAndGlyphs" >Low/intermediate CNS-IPI</text>
<text x="404.60" y="229.70" font-size="6.2" fill="#222"><tspan font-style="italic">P</tspan> = .841</text>
<text x="457.70" y="298.80" font-size="6.0" fill="#c23a55" text-anchor="middle" font-weight="normal" font-style="normal" >7.5%</text>
<text x="459.30" y="310.20" font-size="6.0" fill="#44598a" text-anchor="middle" font-weight="normal" font-style="normal" >6.7%</text>
<text x="378.40" y="353.80" font-size="6" font-style="italic" fill="#333" text-anchor="middle">N</text>
<circle cx="378.70" cy="361.40" r="0.9" fill="#222"/>
<text x="389.50" y="363.70" font-size="6.2" fill="#48689a" text-anchor="middle" font-weight="normal" font-style="normal" >97</text>
<text x="412.30" y="363.70" font-size="6.2" fill="#48689a" text-anchor="middle" font-weight="normal" font-style="normal" >59</text>
<text x="435.10" y="363.70" font-size="6.2" fill="#48689a" text-anchor="middle" font-weight="normal" font-style="normal" >45</text>
<text x="457.90" y="363.70" font-size="6.2" fill="#48689a" text-anchor="middle" font-weight="normal" font-style="normal" >27</text>
<text x="480.70" y="363.70" font-size="6.2" fill="#48689a" text-anchor="middle" font-weight="normal" font-style="normal" >11</text>
<text x="503.50" y="363.70" font-size="6.2" fill="#48689a" text-anchor="middle" font-weight="normal" font-style="normal" >4</text>
<circle cx="378.70" cy="371.30" r="0.9" fill="#222"/>
<text x="389.50" y="373.60" font-size="6.2" fill="#c84262" text-anchor="middle" font-weight="normal" font-style="normal" >45</text>
<text x="412.30" y="373.60" font-size="6.2" fill="#c84262" text-anchor="middle" font-weight="normal" font-style="normal" >23</text>
<text x="435.10" y="373.60" font-size="6.2" fill="#c84262" text-anchor="middle" font-weight="normal" font-style="normal" >14</text>
<text x="457.90" y="373.60" font-size="6.2" fill="#c84262" text-anchor="middle" font-weight="normal" font-style="normal" >7</text>
<text x="480.70" y="373.60" font-size="6.2" fill="#c84262" text-anchor="middle" font-weight="normal" font-style="normal" >2</text>
<text x="503.50" y="373.60" font-size="6.2" fill="#c84262" text-anchor="middle" font-weight="normal" font-style="normal" >1</text>
<text x="350.40" y="203.10" font-size="11.4" fill="#111" text-anchor="start" font-weight="bold" font-style="normal" >F</text>
</g>
<rect x="0" y="0" width="520" height="381" fill="none" stroke="#666" stroke-width="2.4"/>
</svg></body></html>
